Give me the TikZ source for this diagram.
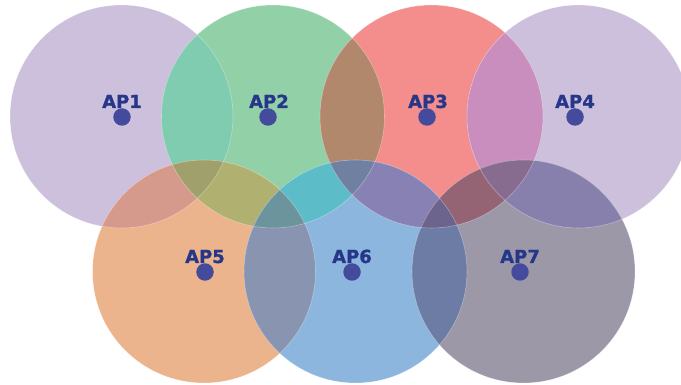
\documentclass[tikz,border=0pt]{standalone}
\usepackage{fontspec}
\setmainfont{DejaVu Sans}
\newfontfamily\aplabelfont[FakeBold=1.2]{DejaVu Sans Bold}

% single coverage areas
\definecolor{cLav}{HTML}{CDC0DC}
\definecolor{cGreen}{HTML}{92D0A8}
\definecolor{cRed}{HTML}{F48E8C}
\definecolor{cOrange}{HTML}{ECB48C}
\definecolor{cBlue}{HTML}{8DB6DF}
\definecolor{cGrey}{HTML}{9C98A8}
% two-cell overlaps
\definecolor{oOneTwo}{HTML}{80CCB0}
\definecolor{oTwoThree}{HTML}{B1886C}
\definecolor{oThreeFour}{HTML}{CA8EBE}
\definecolor{oOneFive}{HTML}{D69A8C}
\definecolor{oTwoFive}{HTML}{B0B070}
\definecolor{oTwoSix}{HTML}{5CBCC8}
\definecolor{oFiveSix}{HTML}{8894B0}
\definecolor{oThreeSix}{HTML}{8882B4}
\definecolor{oThreeSeven}{HTML}{946474}
\definecolor{oFourSeven}{HTML}{8880AC}
\definecolor{oSixSeven}{HTML}{6C7CA4}
% three-cell overlaps
\definecolor{tOTF}{HTML}{A0A06C}
\definecolor{tTFS}{HTML}{6C949C}
\definecolor{tTTS}{HTML}{7080A0}
\definecolor{tTSS}{HTML}{6C648C}
\definecolor{tTFSv}{HTML}{886C90}
% access points
\definecolor{dotblue}{HTML}{444A9C}
\definecolor{labelblue}{HTML}{26378A}

\newcommand\cellR{111.5pt}
% fill the intersection of two cells
\newcommand\lensfill[3]{%
  \begin{scope}\clip (#1) circle[radius=\cellR];
    \fill[#3] (#2) circle[radius=\cellR];\end{scope}}
% fill the intersection of three cells
\newcommand\tripfill[4]{%
  \begin{scope}\clip (#1) circle[radius=\cellR];
    \clip (#2) circle[radius=\cellR];
    \fill[#4] (#3) circle[radius=\cellR];\end{scope}}

\begin{document}
\begin{tikzpicture}[x=1pt,y=-1pt,
  apdot/.style={circle,fill=dotblue,inner sep=0pt,minimum size=17.5pt},
  aplabel/.style={anchor=base,text=labelblue,inner sep=0pt,
    font=\fontsize{18}{18}\aplabelfont},
  cellrim/.style={draw=white,draw opacity=0.35,line width=0.6pt}]
\useasboundingbox (0,0) rectangle (681,385);

% cell centres
\coordinate (c1) at (121.5,116.5);
\coordinate (c2) at (273,116.5);
\coordinate (c3) at (431.5,116.5);
\coordinate (c4) at (578.5,116.5);
\coordinate (c5) at (204,271.5);
\coordinate (c6) at (355.5,271.5);
\coordinate (c7) at (523.5,271.5);

% single coverage
\fill[cLav]    (c1) circle[radius=\cellR];
\fill[cGreen]  (c2) circle[radius=\cellR];
\fill[cRed]    (c3) circle[radius=\cellR];
\fill[cLav]    (c4) circle[radius=\cellR];
\fill[cOrange] (c5) circle[radius=\cellR];
\fill[cBlue]   (c6) circle[radius=\cellR];
\fill[cGrey]   (c7) circle[radius=\cellR];

% pairwise overlaps
\lensfill{c1}{c2}{oOneTwo}
\lensfill{c2}{c3}{oTwoThree}
\lensfill{c3}{c4}{oThreeFour}
\lensfill{c1}{c5}{oOneFive}
\lensfill{c2}{c5}{oTwoFive}
\lensfill{c2}{c6}{oTwoSix}
\lensfill{c5}{c6}{oFiveSix}
\lensfill{c3}{c6}{oThreeSix}
\lensfill{c3}{c7}{oThreeSeven}
\lensfill{c4}{c7}{oFourSeven}
\lensfill{c6}{c7}{oSixSeven}

% triple overlaps
\tripfill{c1}{c2}{c5}{tOTF}
\tripfill{c2}{c5}{c6}{tTFS}
\tripfill{c2}{c3}{c6}{tTTS}
\tripfill{c3}{c6}{c7}{tTSS}
\tripfill{c3}{c4}{c7}{tTFSv}

% faint cell rims
\foreach \c in {c1,c2,c3,c4,c5,c6,c7}
  \draw[cellrim] (\c) circle[radius=\cellR];

% access points
\node[apdot] (ap1) at (122,117) {};
\node[apdot] (ap2) at (268,117) {};
\node[apdot] (ap3) at (427,117) {};
\node[apdot] (ap4) at (575,117) {};
\node[apdot] (ap5) at (205,272) {};
\node[apdot] (ap6) at (352,272) {};
\node[apdot] (ap7) at (520,272) {};

\node[aplabel] (l1) at (122,108) {AP1};
\node[aplabel] (l2) at (269,108) {AP2};
\node[aplabel] (l3) at (428,108) {AP3};
\node[aplabel] (l4) at (575,108) {AP4};
\node[aplabel] (l5) at (205,263) {AP5};
\node[aplabel] (l6) at (352,263) {AP6};
\node[aplabel] (l7) at (520,263) {AP7};
\end{tikzpicture}
\end{document}
